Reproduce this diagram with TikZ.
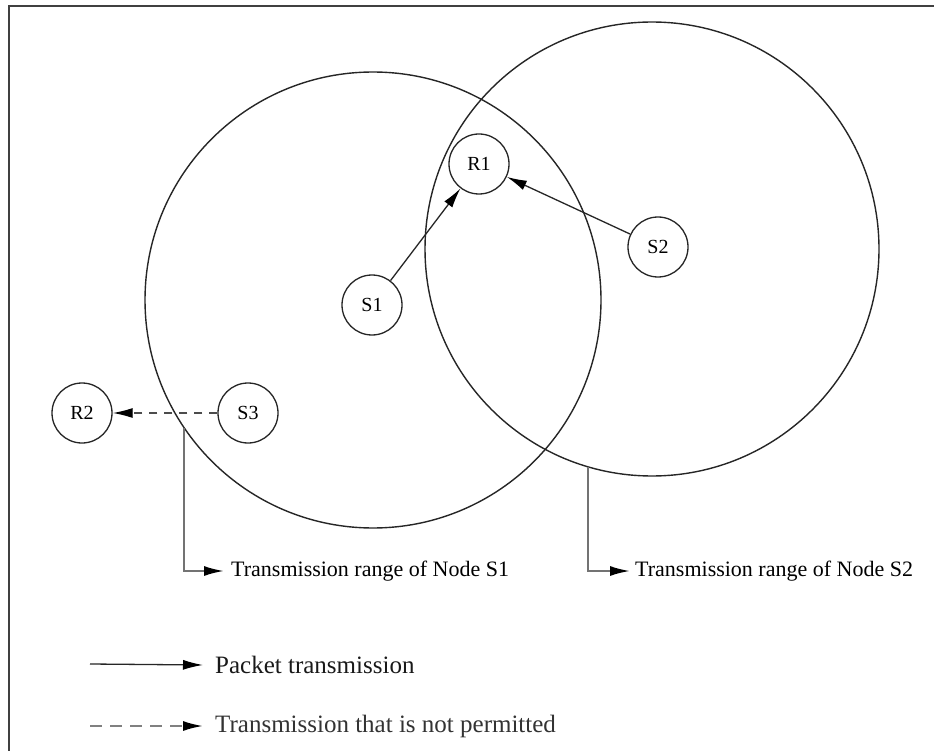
\documentclass[tikz,border=0pt]{standalone}
\usepackage{fontspec}
\setmainfont{Liberation Serif}
\usetikzlibrary{arrows.meta}
\begin{document}
\begin{tikzpicture}[x=1pt,y=-1pt,
  nd/.style={circle,draw=black!85,line width=1.3pt,minimum size=60pt,inner sep=0pt,font=\fontsize{20}{20}\selectfont},
  rangecircle/.style={draw=black!85,line width=1.4pt},
  tip/.style={-{Latex[length=20pt,width=10pt,color=black]}},
  pkt/.style={tip,draw=black!85,line width=1.3pt},
  nop/.style={tip,draw=black!70,line width=1.3pt,dash pattern=on 8pt off 7pt},
  lead/.style={-{Latex[length=20pt,width=10pt,color=black]},draw=black!55,line width=2pt},
  lbl/.style={anchor=west,inner sep=0pt,font=\fontsize{22}{22}\selectfont},
  leg/.style={anchor=west,inner sep=0pt,font=\fontsize{25}{25}\selectfont}]
\useasboundingbox (0,0) rectangle (934,751);
\fill[white] (0,0) rectangle (934,751);
% frame
\draw[draw=black!75,line width=1.6pt] (934,6) -- (9,6) -- (9,751);
% ranges
\coordinate (C1) at (373,300);
\coordinate (C2) at (652,249);
\draw[rangecircle] (C1) circle[radius=228];
\draw[rangecircle] (C2) circle[radius=227];
% nodes
\node[nd] (R1) at (479,164) {R1};
\node[nd] (S2) at (658,247) {S2};
\node[nd] (S1) at (372,305) {S1};
\node[nd] (S3) at (248,413) {S3};
\node[nd] (R2) at (82,413) {R2};
% transmissions
\draw[pkt] (S1) -- (R1);
\draw[pkt] (S2) -- (R1);
\draw[nop] (S3) -- (R2);
% leaders
\coordinate (L1a) at (184,428);
\coordinate (L1b) at (184,571);
\coordinate (L2a) at (588,467);
\coordinate (L2b) at (588,571);
\node[lbl] (T1) at (231,571) {Transmission range of Node S1};
\node[lbl] (T2) at (635,571) {Transmission range of Node S2};
\draw[lead] (L1a) -- (L1b) -- ([xshift=-7pt]T1.west);
\draw[lead] (L2a) -- (L2b) -- ([xshift=-5pt]T2.west);
% legend
\coordinate (P0) at (90,664);
\coordinate (N0) at (90,726);
\node[leg,text=black!90] (PT) at (215,665) {Packet transmission};
\node[leg,text=black!80] (NT) at (215,726) {Transmission that is not permitted};
\draw[pkt] (P0) -- ([xshift=-12pt]PT.west);
\draw[tip,draw=black!50,line width=2pt,dash pattern=on 12pt off 8pt] (N0) -- ([xshift=-12pt]NT.west);
\end{tikzpicture}
\end{document}
